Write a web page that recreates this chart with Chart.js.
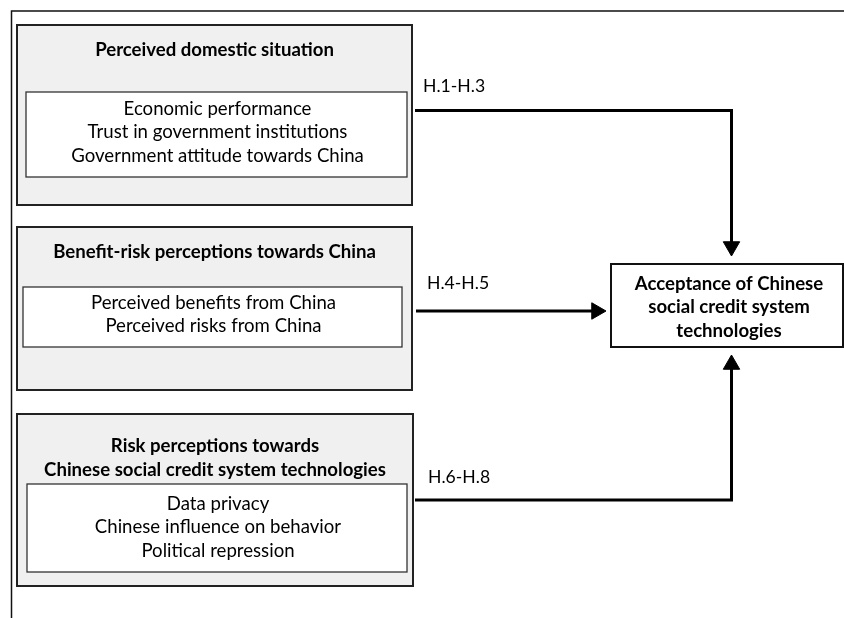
<!DOCTYPE html>
<html>
<head>
<meta charset="utf-8">
<script src="https://cdn.jsdelivr.net/npm/chart.js@4"></script>
<style>
  html, body { margin: 0; padding: 0; background: #fff; }
  canvas { display: block; }
</style>
</head>
<body>
<canvas id="diagram" width="844" height="618"></canvas>
<script>
// diagram content
const groupTitles = [
  ['Perceived domestic situation'],
  ['Benefit-risk perceptions towards China'],
  ['Risk perceptions towards', 'Chinese social credit system technologies']
];
const groupItems = [
  ['Economic performance', 'Trust in government institutions', 'Government attitude towards China'],
  ['Perceived benefits from China', 'Perceived risks from China'],
  ['Data privacy', 'Chinese influence on behavior', 'Political repression']
];
const hypotheses = ['H.1-H.3', 'H.4-H.5', 'H.6-H.8'];
const outcomeLines = ['Acceptance of Chinese', 'social credit system', 'technologies'];

// layout in diagram units (same as pixels of the 844x618 canvas)
const groupLayout = [
  { box: [17, 25, 412, 205], titleY: [49.5], inner: [26, 92, 407, 177], itemY: 108.5 },
  { box: [17, 227, 412, 390], titleY: [251.5], inner: [23, 287, 402, 347], itemY: 302.5 },
  { box: [17, 414, 413, 586], titleY: [445.5, 470], inner: [27, 484, 407, 572], itemY: 503.5 }
];
const itemGap = 23.8;
const outcomeBox = [611, 264, 843, 347];
const outcomeY = [283.5, 307, 330.5];
const labelPos = [[423, 86], [427, 283], [428, 477]];
const headR = 9.5;
const connectors = [
  [[415, 110.5], [731.5, 110.5], [731.5, 256 - headR]],
  [[416, 311], [606 - headR, 311]],
  [[415, 500], [731.5, 500], [731.5, 355 + headR]]
];
const headRotation = [180, 90, 0];

const FONT = 'Lato, "Open Sans", sans-serif';

const diagramPlugin = {
  id: 'diagram',
  beforeDatasetsDraw(chart) {
    const ctx = chart.ctx;
    const x = v => chart.scales.x.getPixelForValue(v);
    const y = v => chart.scales.y.getPixelForValue(v);
    const rect = (r, fill, stroke, lw) => {
      const x0 = x(r[0]), y0 = y(r[1]), x1 = x(r[2]), y1 = y(r[3]);
      if (fill) { ctx.fillStyle = fill; ctx.fillRect(x0, y0, x1 - x0, y1 - y0); }
      ctx.strokeStyle = stroke; ctx.lineWidth = lw;
      ctx.strokeRect(x0, y0, x1 - x0, y1 - y0);
    };
    ctx.save();
    // outer frame (top and left edges only)
    ctx.strokeStyle = '#111'; ctx.lineWidth = 1.5;
    ctx.beginPath();
    ctx.moveTo(x(844), y(11)); ctx.lineTo(x(11.5), y(11)); ctx.lineTo(x(11.5), y(618));
    ctx.stroke();

    ctx.textAlign = 'center';
    ctx.textBaseline = 'middle';
    ctx.fillStyle = '#000';
    groupLayout.forEach((g, i) => {
      rect(g.box, '#f0f0f0', '#222', 2);
      rect(g.inner, '#fff', '#333', 1.3);
      const cx = x((g.box[0] + g.box[2]) / 2);
      ctx.fillStyle = '#000';
      ctx.font = 'bold 18.6px ' + FONT;
      groupTitles[i].forEach((t, k) => ctx.fillText(t, cx, y(g.titleY[k])));
      const ix = x((g.inner[0] + g.inner[2]) / 2 + 1);
      ctx.font = '18.6px ' + FONT;
      groupItems[i].forEach((t, k) => ctx.fillText(t, ix, y(g.itemY + k * itemGap)));
    });

    rect(outcomeBox, '#fff', '#111', 2);
    ctx.fillStyle = '#000';
    ctx.font = 'bold 18.6px ' + FONT;
    const ox = x((outcomeBox[0] + outcomeBox[2]) / 2 + 2);
    outcomeLines.forEach((t, k) => ctx.fillText(t, ox, y(outcomeY[k])));

    ctx.textAlign = 'left';
    ctx.font = '17.6px ' + FONT;
    hypotheses.forEach((t, i) => ctx.fillText(t, x(labelPos[i][0]), y(labelPos[i][1])));
    ctx.restore();
  }
};

const datasets = connectors.map((pts, i) => ({
  label: hypotheses[i],
  data: pts.map(p => ({ x: p[0], y: p[1] })),
  showLine: true,
  borderColor: '#000',
  borderWidth: 3,
  borderJoinStyle: 'miter',
  borderCapStyle: 'butt',
  pointStyle: 'triangle',
  pointRadius: pts.map((p, k) => k === pts.length - 1 ? headR : 0),
  pointRotation: headRotation[i],
  pointBackgroundColor: '#000',
  pointBorderColor: '#000',
  pointBorderWidth: 1,
  clip: false,
  tension: 0
}));

new Chart(document.getElementById('diagram'), {
  type: 'scatter',
  data: { datasets: datasets },
  options: {
    responsive: false,
    animation: false,
    events: [],
    layout: { autoPadding: false, padding: 0 },
    plugins: { legend: { display: false }, tooltip: { enabled: false }, title: { display: false } },
    scales: {
      x: { type: 'linear', min: 0, max: 844, display: false },
      y: { type: 'linear', min: 0, max: 618, reverse: true, display: false }
    }
  },
  plugins: [diagramPlugin]
});
</script>
</body>
</html>
